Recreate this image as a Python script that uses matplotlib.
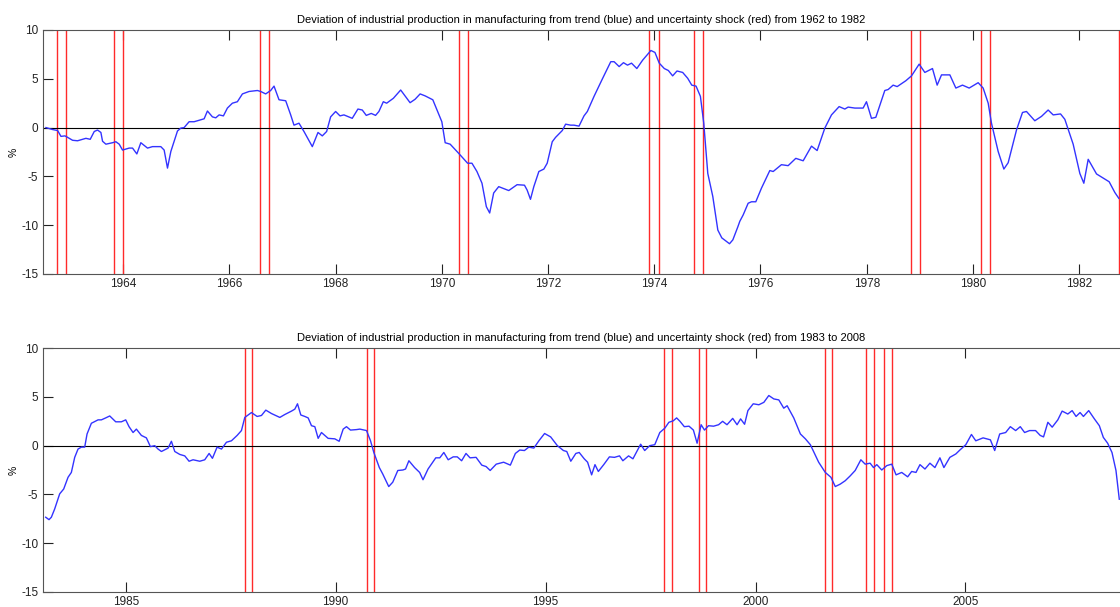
import matplotlib
matplotlib.use("Agg")
import matplotlib.pyplot as plt

plt.rcParams['font.family'] = ['Liberation Sans', 'DejaVu Sans']
plt.rcParams['axes.unicode_minus'] = False

# top panel, 1962 - 1982 (decimal years, % deviation from trend)
top_years = [
    1962.545, 1962.671, 1962.765, 1962.828, 1962.903, 1962.953, 1963.047, 1963.141,
    1963.235, 1963.298, 1963.379, 1963.455, 1963.517, 1963.580, 1963.611, 1963.674,
    1963.799, 1963.862, 1963.925, 1963.987, 1964.113, 1964.176, 1964.257, 1964.332,
    1964.458, 1964.552, 1964.708, 1964.771, 1964.834, 1964.897, 1965.022, 1965.085,
    1965.147, 1965.241, 1965.335, 1965.461, 1965.524, 1965.586, 1965.680, 1965.743,
    1965.806, 1965.887, 1965.962, 1966.056, 1966.150, 1966.245, 1966.370, 1966.527,
    1966.589, 1966.683, 1966.777, 1966.840, 1966.934, 1967.060, 1967.154, 1967.216,
    1967.310, 1967.404, 1967.561, 1967.668, 1967.749, 1967.831, 1967.906, 1968.000,
    1968.082, 1968.157, 1968.313, 1968.420, 1968.502, 1968.577, 1968.671, 1968.752,
    1968.815, 1968.898, 1968.961, 1969.087, 1969.225, 1969.402, 1969.496, 1969.591,
    1969.685, 1969.830, 1969.937, 1970.000, 1970.063, 1970.157, 1970.328, 1970.485,
    1970.567, 1970.661, 1970.756, 1970.838, 1970.901, 1970.976, 1971.071, 1971.260,
    1971.417, 1971.556, 1971.606, 1971.669, 1971.732, 1971.827, 1971.921, 1971.984,
    1972.079, 1972.142, 1972.268, 1972.331, 1972.425, 1972.488, 1972.583, 1972.677,
    1972.740, 1972.866, 1973.024, 1973.181, 1973.244, 1973.339, 1973.420, 1973.496,
    1973.572, 1973.672, 1973.780, 1973.937, 1974.013, 1974.094, 1974.189, 1974.265,
    1974.346, 1974.428, 1974.535, 1974.630, 1974.706, 1974.787, 1974.869, 1974.932,
    1975.008, 1975.102, 1975.197, 1975.272, 1975.417, 1975.480, 1975.575, 1975.611,
    1975.674, 1975.768, 1975.831, 1975.912, 1976.019, 1976.176, 1976.239, 1976.395,
    1976.521, 1976.665, 1976.804, 1976.961, 1977.067, 1977.212, 1977.337, 1977.481,
    1977.588, 1977.651, 1977.777, 1977.933, 1977.996, 1978.090, 1978.172, 1978.341,
    1978.404, 1978.498, 1978.574, 1978.737, 1978.844, 1978.988, 1979.095, 1979.239,
    1979.327, 1979.409, 1979.566, 1979.679, 1979.804, 1979.930, 1980.099, 1980.193,
    1980.288, 1980.350, 1980.476, 1980.583, 1980.664, 1980.821, 1980.934, 1981.009,
    1981.166, 1981.292, 1981.417, 1981.512, 1981.650, 1981.731, 1981.888, 1982.014,
    1982.089, 1982.171, 1982.328, 1982.566, 1982.673, 1982.748,
]
top_values = [
    0.0, -0.2, -0.3, -0.9, -0.85, -1.0, -1.3, -1.35,
    -1.2, -1.1, -1.2, -0.4, -0.25, -0.5, -1.4, -1.7,
    -1.55, -1.45, -1.7, -2.3, -2.1, -2.1, -2.7, -1.55,
    -2.1, -1.95, -1.95, -2.3, -4.15, -2.45, -0.35, -0.05,
    0.0, 0.6, 0.6, 0.8, 0.9, 1.7, 1.1, 1.0,
    1.3, 1.2, 2.0, 2.5, 2.65, 3.45, 3.7, 3.8,
    3.7, 3.45, 3.8, 4.25, 2.85, 2.75, 1.3, 0.25,
    0.45, -0.4, -1.95, -0.5, -0.85, -0.4, 1.1, 1.65,
    1.2, 1.3, 0.95, 1.9, 1.8, 1.25, 1.45, 1.25,
    1.65, 2.65, 2.5, 3.0, 3.85, 2.55, 2.9, 3.45,
    3.25, 2.85, 1.45, 0.6, -1.55, -1.7, -2.7, -3.65,
    -3.65, -4.5, -5.7, -8.1, -8.75, -6.7, -6.05, -6.45,
    -5.85, -5.9, -6.4, -7.35, -6.05, -4.5, -4.25, -3.65,
    -1.45, -1.0, -0.3, 0.35, 0.25, 0.25, 0.15, 1.2,
    1.65, 3.2, 5.0, 6.75, 6.75, 6.25, 6.65, 6.4,
    6.6, 6.05, 6.9, 7.9, 7.7, 6.6, 6.05, 5.85,
    5.3, 5.8, 5.65, 5.05, 4.35, 4.25, 3.2, 0.45,
    -4.7, -7.05, -10.5, -11.3, -11.9, -11.5, -10.15, -9.6,
    -8.95, -7.75, -7.6, -7.6, -6.2, -4.4, -4.5, -3.8,
    -3.9, -3.15, -3.4, -1.9, -2.35, -0.05, 1.3, 2.15,
    1.9, 2.1, 2.0, 2.0, 2.65, 0.95, 1.05, 3.8,
    3.9, 4.35, 4.2, 4.8, 5.3, 6.5, 5.65, 6.05,
    4.35, 5.4, 5.4, 4.05, 4.35, 4.05, 4.6, 4.05,
    2.5, 0.45, -2.45, -4.25, -3.6, -0.25, 1.55, 1.65,
    0.7, 1.15, 1.8, 1.3, 1.4, 0.85, -1.7, -4.7,
    -5.7, -3.25, -4.75, -5.55, -6.65, -7.25,
]
top_shocks = [1962.745, 1962.915, 1963.83, 1963.99, 1966.58, 1966.75,
              1970.33, 1970.50, 1973.91, 1974.08, 1974.75, 1974.92,
              1978.83, 1979.00, 1980.16, 1980.33, 1982.75]

# bottom panel, 1983 - 2008
bottom_years = [
    1983.094, 1983.173, 1983.229, 1983.308, 1983.427, 1983.523, 1983.626, 1983.705,
    1983.785, 1983.864, 1983.944, 1984.023, 1984.079, 1984.182, 1984.341, 1984.420,
    1984.523, 1984.619, 1984.762, 1984.897, 1985.000, 1985.079, 1985.175, 1985.254,
    1985.373, 1985.492, 1985.588, 1985.691, 1985.770, 1985.850, 1986.009, 1986.088,
    1986.168, 1986.287, 1986.406, 1986.509, 1986.604, 1986.763, 1986.882, 1986.986,
    1987.065, 1987.176, 1987.280, 1987.399, 1987.518, 1987.653, 1987.756, 1987.836,
    1987.994, 1988.129, 1988.233, 1988.336, 1988.471, 1988.670, 1988.789, 1988.948,
    1989.027, 1989.091, 1989.170, 1989.265, 1989.345, 1989.424, 1989.504, 1989.583,
    1989.662, 1989.821, 1989.980, 1990.083, 1990.179, 1990.258, 1990.353, 1990.496,
    1990.576, 1990.735, 1990.830, 1990.909, 1991.040, 1991.120, 1991.264, 1991.360,
    1991.480, 1991.600, 1991.664, 1991.744, 1991.880, 1992.000, 1992.080, 1992.200,
    1992.280, 1992.384, 1992.480, 1992.576, 1992.680, 1992.800, 1992.896, 1993.000,
    1993.104, 1993.200, 1993.344, 1993.480, 1993.584, 1993.680, 1993.824, 1994.000,
    1994.160, 1994.280, 1994.384, 1994.496, 1994.600, 1994.720, 1994.840, 1994.976,
    1995.120, 1995.280, 1995.424, 1995.504, 1995.600, 1995.720, 1995.800, 1995.920,
    1996.000, 1996.096, 1996.176, 1996.256, 1996.384, 1996.520, 1996.640, 1996.760,
    1996.840, 1996.976, 1997.080, 1997.160, 1997.264, 1997.360, 1997.480, 1997.600,
    1997.720, 1997.840, 1997.936, 1998.040, 1998.120, 1998.200, 1998.304, 1998.416,
    1998.520, 1998.608, 1998.704, 1998.784, 1998.880, 1999.000, 1999.120, 1999.216,
    1999.320, 1999.456, 1999.560, 1999.644, 1999.739, 1999.818, 1999.945, 2000.079,
    2000.198, 2000.316, 2000.435, 2000.554, 2000.672, 2000.752, 2000.910, 2001.068,
    2001.187, 2001.305, 2001.503, 2001.661, 2001.796, 2001.899, 2002.017, 2002.136,
    2002.255, 2002.373, 2002.508, 2002.611, 2002.729, 2002.809, 2002.888, 2003.006,
    2003.125, 2003.244, 2003.347, 2003.481, 2003.623, 2003.718, 2003.821, 2003.916,
    2004.035, 2004.153, 2004.272, 2004.391, 2004.486, 2004.628, 2004.771, 2004.866,
    2005.008, 2005.142, 2005.245, 2005.419, 2005.593, 2005.696, 2005.815, 2005.957,
    2006.068, 2006.195, 2006.305, 2006.408, 2006.527, 2006.669, 2006.780, 2006.859,
    2006.962, 2007.065, 2007.199, 2007.302, 2007.437, 2007.540, 2007.634, 2007.729,
    2007.809, 2007.935, 2008.070, 2008.188, 2008.283, 2008.386, 2008.489, 2008.584,
    2008.639, 2008.663,
]
bottom_values = [
    -7.35, -7.6, -7.35, -6.5, -4.95, -4.45, -3.25, -2.75,
    -1.2, -0.35, -0.15, -0.15, 1.2, 2.3, 2.65, 2.65,
    2.85, 3.05, 2.45, 2.45, 2.65, 1.95, 1.35, 1.7,
    1.05, 0.8, -0.1, 0.0, -0.35, -0.6, -0.25, 0.45,
    -0.6, -0.9, -1.05, -1.6, -1.45, -1.6, -1.45, -0.8,
    -1.3, -0.15, -0.35, 0.35, 0.5, 1.05, 1.55, 2.9,
    3.4, 3.0, 3.1, 3.65, 3.3, 2.9, 3.2, 3.55,
    3.75, 4.3, 3.15, 3.0, 2.85, 2.05, 1.95, 0.75,
    1.35, 0.75, 0.7, 0.45, 1.7, 1.95, 1.6, 1.65,
    1.7, 1.55, 0.5, -0.7, -2.25, -2.9, -4.2, -3.75,
    -2.55, -2.5, -2.4, -1.55, -2.25, -2.75, -3.5, -2.4,
    -1.9, -1.25, -1.25, -0.7, -1.45, -1.15, -1.15, -1.55,
    -0.8, -1.25, -1.2, -2.0, -2.15, -2.55, -1.9, -1.7,
    -2.0, -0.8, -0.45, -0.5, -0.15, -0.25, 0.5, 1.25,
    0.9, 0.0, -0.5, -0.6, -1.6, -0.8, -0.7, -1.35,
    -1.7, -3.0, -1.95, -2.65, -1.95, -1.15, -1.2, -1.05,
    -1.55, -1.05, -1.35, -0.7, 0.15, -0.5, 0.0, 0.1,
    1.35, 1.8, 2.4, 2.55, 2.85, 2.5, 1.95, 2.0,
    1.6, 0.25, 2.15, 1.6, 2.05, 2.0, 2.15, 2.5,
    2.15, 2.8, 2.15, 2.75, 2.2, 3.6, 4.3, 4.2,
    4.45, 5.15, 4.8, 4.7, 3.85, 4.1, 2.85, 1.2,
    0.7, 0.1, -1.7, -2.75, -3.25, -4.2, -3.95, -3.6,
    -3.1, -2.55, -1.45, -1.9, -1.8, -2.25, -1.95, -2.5,
    -2.05, -1.9, -3.0, -2.75, -3.2, -2.65, -2.75, -1.95,
    -2.4, -1.8, -2.25, -1.25, -2.25, -1.2, -0.85, -0.45,
    0.1, 1.15, 0.5, 0.8, 0.6, -0.5, 1.2, 1.35,
    1.95, 1.55, 1.95, 1.35, 1.55, 1.55, 1.05, 0.9,
    2.4, 1.9, 2.65, 3.55, 3.25, 3.6, 3.0, 3.4,
    3.0, 3.6, 2.75, 2.05, 0.85, 0.25, -0.7, -2.55,
    -4.6, -5.5,
]
bottom_shocks = [1987.835, 1988.01, 1990.74, 1990.92, 1997.81, 1998.0,
                 1998.66, 1998.83, 2001.66, 2001.82, 2002.64, 2002.82,
                 2003.06, 2003.24]

panels = [
    ([0.0384, 0.5486, 0.9616, 0.402], top_years, top_values, top_shocks,
     (1962.49, 1982.77), range(1964, 1983, 2),
     'Deviation of industrial production in manufacturing from trend (blue) '
     'and uncertainty shock (red) from 1962 to 1982'),
    ([0.0384, 0.0252, 0.9616, 0.401], bottom_years, bottom_values, bottom_shocks,
     (1983.03, 2008.68), range(1985, 2009, 5),
     'Deviation of industrial production in manufacturing from trend (blue) '
     'and uncertainty shock (red) from 1983 to 2008'),
]

fig = plt.figure(figsize=(11.2, 6.07), dpi=100)

for rect, years, values, shocks, xlim, xticks, title in panels:
    ax = fig.add_axes(rect)
    for s in shocks:
        ax.axvline(s, color='#ff2a2a', lw=1.0)
    ax.axhline(0, color='black', lw=0.8)
    ax.plot(years, values, color='#3333ff', lw=1.0)
    ax.set_xlim(*xlim)
    ax.set_ylim(-15, 10)
    ax.set_xticks(list(xticks))
    ax.set_yticks([-15, -10, -5, 0, 5, 10])
    ax.tick_params(direction='in', length=7, width=0.8, top=True,
                   labelsize=8.5, colors='#222222')
    ax.tick_params(axis='x', pad=3)
    ax.spines['right'].set_visible(False)
    for sp in ['left', 'top', 'bottom']:
        ax.spines[sp].set_linewidth(0.8)
        ax.spines[sp].set_color('#555555')
    ax.set_ylabel('%', fontsize=7.5, labelpad=2)
    ax.set_title(title, fontsize=8, pad=5)

fig.savefig('out.png', dpi=100)
